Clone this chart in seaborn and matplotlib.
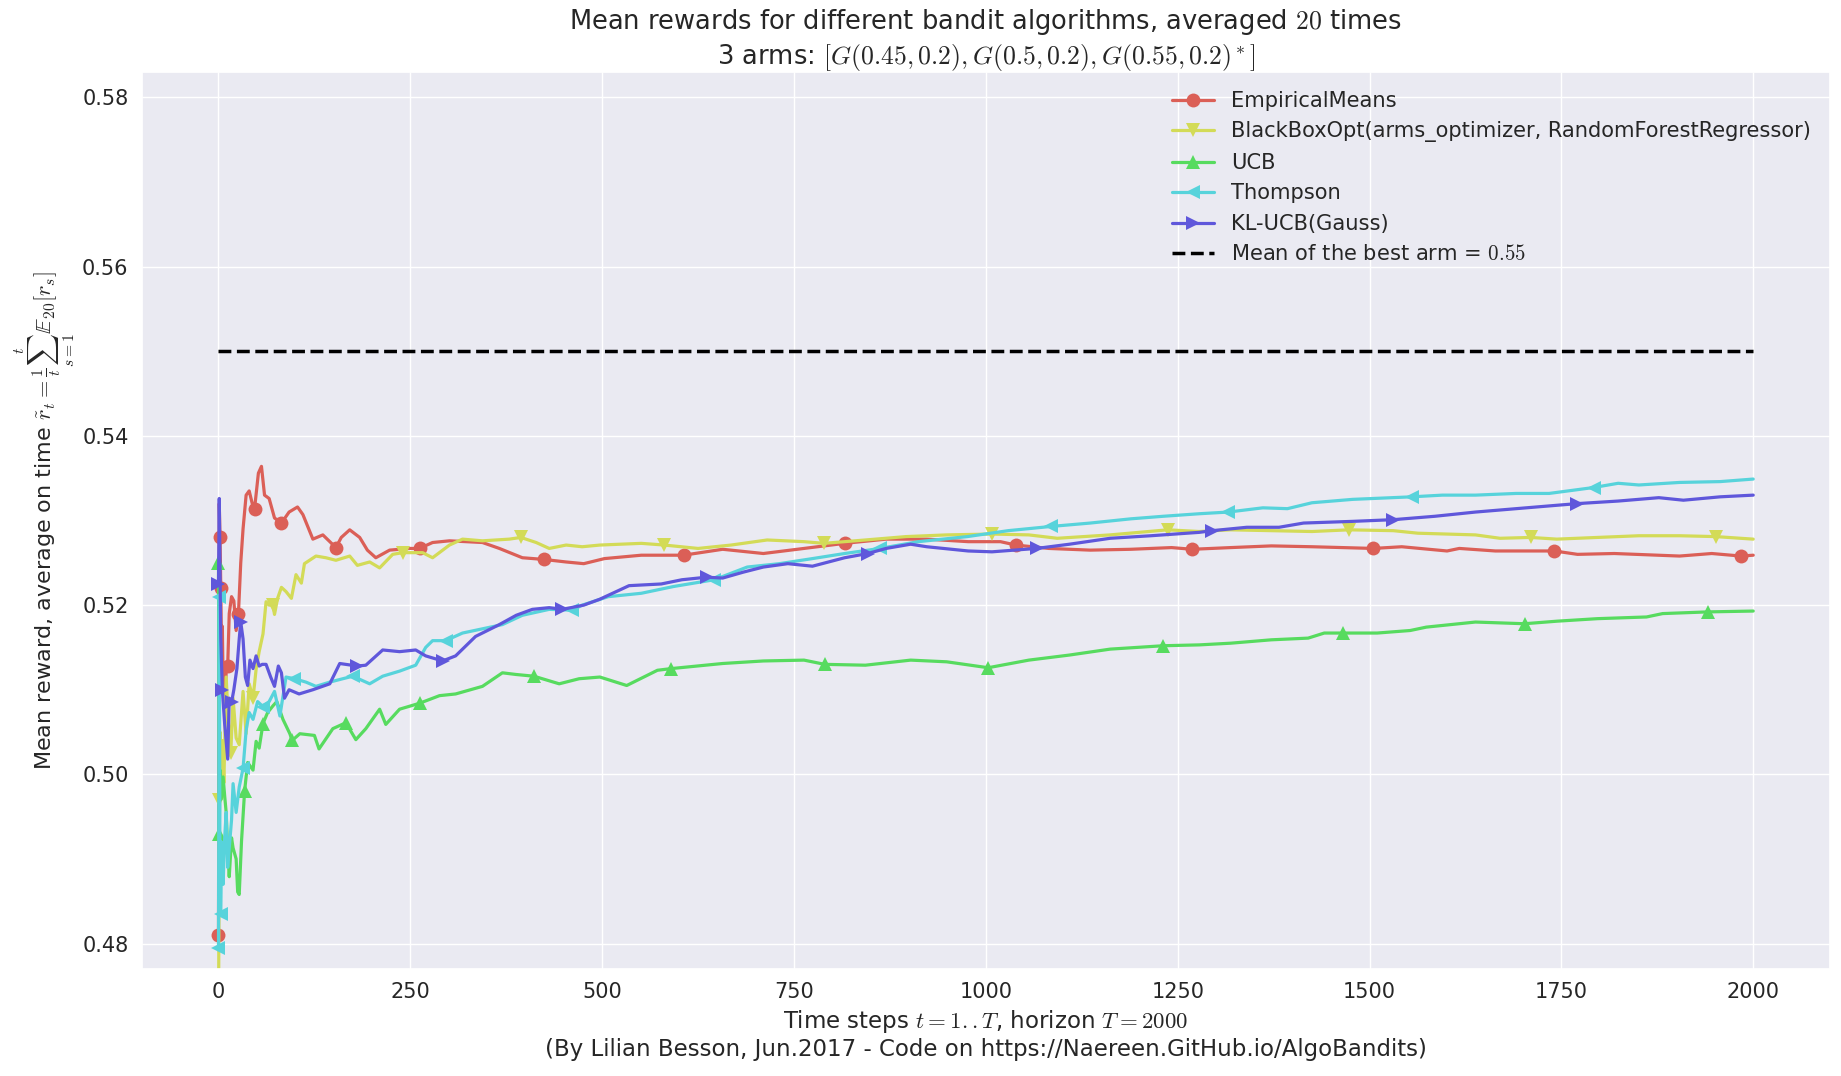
import seaborn as sns
import pandas as pd
import matplotlib
matplotlib.use("Agg")
import matplotlib.pyplot as plt
from matplotlib.ticker import MultipleLocator

# valori: (pas de timp t, recompensa medie)
empirical_means = [
    (0, 0.481), (1, 0.532), (2, 0.528), (3, 0.522), (4, 0.514), (5, 0.5175), (6, 0.511),
    (8, 0.5085), (10, 0.512), (12, 0.5128), (14, 0.519), (17, 0.521), (20, 0.5205),
    (23, 0.517), (26, 0.519), (29, 0.525), (32, 0.529), (36, 0.533), (40, 0.5335),
    (44, 0.532), (47, 0.5314), (52, 0.5356), (56, 0.5364), (60, 0.533), (66, 0.5326),
    (73, 0.5303), (82, 0.5297), (92, 0.531), (103, 0.5316), (110, 0.5307), (123, 0.5278),
    (136, 0.5283), (153, 0.5268), (160, 0.528), (171, 0.5289), (184, 0.528), (194, 0.5265),
    (205, 0.5256), (223, 0.5265), (249, 0.5267), (262, 0.5267), (279, 0.5274), (301, 0.5276),
    (344, 0.5274), (366, 0.5267), (396, 0.5256), (424, 0.5254), (453, 0.5251), (476, 0.5249),
    (503, 0.5255), (551, 0.5259), (606, 0.5259), (657, 0.5266), (710, 0.5261), (763, 0.5267),
    (816, 0.5273), (870, 0.5278), (923, 0.5278), (977, 0.5275), (1019, 0.5275), (1039, 0.5271),
    (1082, 0.5267), (1136, 0.5265), (1189, 0.5266), (1242, 0.5268), (1269, 0.5266),
    (1319, 0.5268), (1372, 0.527), (1425, 0.5269), (1505, 0.5267), (1542, 0.5269),
    (1601, 0.5264), (1617, 0.5267), (1664, 0.5264), (1741, 0.5264), (1771, 0.526),
    (1819, 0.5261), (1904, 0.5258), (1946, 0.5261), (1984, 0.5258), (2000, 0.5259),
]

blackbox_opt = [
    (0, 0.468), (1, 0.497), (2, 0.505), (3, 0.500), (5, 0.504), (7, 0.499), (10, 0.5115),
    (13, 0.506), (16, 0.5025), (19, 0.509), (23, 0.5043), (27, 0.5035), (32, 0.5098),
    (36, 0.5048), (40, 0.5107), (45, 0.509), (49, 0.5124), (53, 0.5145), (58, 0.5166),
    (62, 0.5204), (66, 0.520), (71, 0.520), (73, 0.5189), (77, 0.5208), (82, 0.5221),
    (88, 0.5216), (95, 0.5208), (101, 0.5236), (108, 0.5226), (112, 0.5249), (127, 0.5258),
    (140, 0.5256), (153, 0.5253), (171, 0.5258), (181, 0.5247), (197, 0.5251), (210, 0.5244),
    (227, 0.526), (240, 0.5262), (266, 0.5262), (279, 0.5256), (301, 0.5271), (318, 0.5278),
    (344, 0.5276), (379, 0.5278), (394, 0.528), (414, 0.5274), (431, 0.5267), (453, 0.5271),
    (474, 0.5269), (497, 0.5271), (551, 0.5273), (581, 0.5271), (625, 0.5267), (668, 0.5271),
    (715, 0.5277), (763, 0.5275), (789, 0.5273), (843, 0.5277), (896, 0.5281), (949, 0.5283),
    (1008, 0.5284), (1056, 0.5283), (1093, 0.5279), (1162, 0.5283), (1237, 0.5289),
    (1278, 0.5287), (1319, 0.5289), (1372, 0.5288), (1425, 0.5287), (1473, 0.5289),
    (1531, 0.5288), (1563, 0.5285), (1638, 0.5283), (1670, 0.5279), (1710, 0.528),
    (1744, 0.5278), (1797, 0.528), (1851, 0.5282), (1904, 0.5282), (1951, 0.5281),
    (2000, 0.5278),
]

ucb = [
    (0, 0.525), (1, 0.493), (2, 0.5005), (3, 0.497), (6, 0.4997), (8, 0.4975), (10, 0.4955),
    (12, 0.491), (14, 0.4879), (17, 0.4925), (19, 0.4913), (23, 0.490), (25, 0.4861),
    (27, 0.4858), (30, 0.4921), (34, 0.498), (38, 0.5014), (45, 0.5005), (49, 0.5039),
    (53, 0.5031), (58, 0.506), (64, 0.5073), (71, 0.5081), (76, 0.5086), (84, 0.5065),
    (93, 0.5048), (96, 0.504), (106, 0.5048), (125, 0.5046), (131, 0.503), (149, 0.5054),
    (166, 0.5061), (179, 0.5041), (192, 0.5054), (210, 0.5077), (218, 0.5059), (236, 0.5077),
    (262, 0.5084), (288, 0.5093), (309, 0.5095), (344, 0.5104), (370, 0.512), (388, 0.5118),
    (411, 0.5116), (444, 0.5107), (470, 0.5113), (497, 0.5115), (532, 0.5105), (572, 0.5123),
    (590, 0.5125), (657, 0.5131), (710, 0.5134), (763, 0.5135), (790, 0.513), (843, 0.5129),
    (902, 0.5135), (949, 0.5133), (1003, 0.5126), (1056, 0.5135), (1109, 0.5141),
    (1162, 0.5148), (1231, 0.5152), (1278, 0.5153), (1319, 0.5155), (1372, 0.5159),
    (1420, 0.5161), (1441, 0.5167), (1465, 0.5167), (1510, 0.5167), (1553, 0.517),
    (1574, 0.5174), (1638, 0.518), (1702, 0.5178), (1744, 0.5181), (1797, 0.5184),
    (1861, 0.5186), (1882, 0.519), (1941, 0.5192), (2000, 0.5193),
]

thompson = [
    (0, 0.4795), (1, 0.521), (2, 0.484), (3, 0.4835), (4, 0.492), (6, 0.487), (8, 0.4924),
    (10, 0.4955), (12, 0.489), (14, 0.4913), (17, 0.4946), (19, 0.4989), (23, 0.4955),
    (27, 0.4985), (32, 0.5007), (36, 0.5052), (40, 0.5073), (45, 0.5065), (51, 0.5086),
    (58, 0.508), (66, 0.5086), (73, 0.5098), (80, 0.5069), (88, 0.5115), (99, 0.5113),
    (114, 0.5109), (127, 0.5104), (145, 0.5109), (162, 0.5113), (175, 0.5116), (197, 0.5107),
    (214, 0.5116), (236, 0.5122), (257, 0.5129), (270, 0.515), (279, 0.5158), (296, 0.5158),
    (318, 0.5167), (344, 0.5172), (370, 0.5177), (396, 0.5188), (431, 0.5195), (461, 0.5194),
    (474, 0.520), (508, 0.521), (551, 0.5214), (593, 0.5222), (646, 0.523), (689, 0.5245),
    (731, 0.5249), (774, 0.5255), (816, 0.5261), (862, 0.5267), (912, 0.5275), (976, 0.5281),
    (1029, 0.5288), (1085, 0.5293), (1136, 0.5297), (1189, 0.5302), (1231, 0.5305),
    (1278, 0.5308), (1316, 0.531), (1361, 0.5315), (1393, 0.5314), (1425, 0.5321),
    (1478, 0.5325), (1555, 0.5328), (1595, 0.533), (1638, 0.533), (1691, 0.5332),
    (1734, 0.5332), (1792, 0.5339), (1824, 0.5344), (1851, 0.5342), (1904, 0.5345),
    (1957, 0.5346), (2000, 0.5349),
]

kl_ucb = [
    (0, 0.5225), (1, 0.5326), (2, 0.524), (3, 0.516), (5, 0.510), (8, 0.506), (12, 0.5018),
    (14, 0.509), (17, 0.5085), (20, 0.510), (24, 0.5125), (27, 0.516), (29, 0.518),
    (32, 0.516), (35, 0.5115), (38, 0.5105), (41, 0.5135), (45, 0.5125), (49, 0.514),
    (53, 0.5128), (57, 0.513), (62, 0.513), (68, 0.5115), (73, 0.5104), (78, 0.5128),
    (82, 0.512), (86, 0.509), (92, 0.510), (105, 0.5095), (123, 0.510), (145, 0.5107),
    (158, 0.5131), (181, 0.5128), (192, 0.5129), (214, 0.5147), (236, 0.5145), (257, 0.5147),
    (270, 0.514), (292, 0.5134), (309, 0.514), (335, 0.5163), (366, 0.5177), (388, 0.5188),
    (409, 0.5195), (431, 0.5197), (448, 0.5195), (476, 0.520), (497, 0.5207), (535, 0.5223),
    (577, 0.5225), (604, 0.523), (636, 0.5233), (657, 0.5232), (684, 0.5239), (710, 0.5245),
    (742, 0.5249), (774, 0.5246), (816, 0.5256), (846, 0.5261), (870, 0.5267), (902, 0.5272),
    (923, 0.5269), (977, 0.5264), (1008, 0.5263), (1066, 0.5267), (1109, 0.5272),
    (1162, 0.5279), (1215, 0.5282), (1278, 0.5286), (1295, 0.5288), (1340, 0.5292),
    (1382, 0.5292), (1414, 0.5297), (1478, 0.5299), (1531, 0.5301), (1585, 0.5305),
    (1638, 0.531), (1691, 0.5314), (1744, 0.5318), (1771, 0.532), (1824, 0.5323),
    (1877, 0.5327), (1909, 0.5324), (1957, 0.5328), (2000, 0.533),
]

# pasii de timp unde apar markerii pe fiecare curba
marker_steps = [
    [0, 2, 3, 12, 26, 47, 82, 153, 262, 424, 606, 816, 1039, 1269, 1505, 1741, 1984],
    [1, 16, 45, 71, 240, 394, 581, 789, 1008, 1237, 1473, 1710, 1951],
    [0, 1, 34, 58, 96, 166, 262, 411, 590, 790, 1003, 1231, 1465, 1702, 1941],
    [0, 1, 3, 32, 58, 99, 175, 296, 461, 646, 862, 1085, 1316, 1555, 1792],
    [0, 5, 17, 29, 181, 292, 448, 636, 846, 1066, 1295, 1531, 1771],
]

algo_names = ["EmpiricalMeans", "BlackBoxOpt(arms_optimizer, RandomForestRegressor)",
              "UCB", "Thompson", "KL-UCB(Gauss)"]
algo_series = [empirical_means, blackbox_opt, ucb, thompson, kl_ucb]
markers = ["o", "v", "^", "<", ">"]

HORIZON = 2000
BEST_MEAN = 0.55
NB_REPETITIONS = 20


def marker_indices(series, steps):
    ts = [t for t, _ in series]
    return [min(range(len(ts)), key=lambda k: abs(ts[k] - s)) for s in steps]


sns.set_theme(style="darkgrid", palette="hls")
plt.rcParams["mathtext.fontset"] = "cm"
# paleta hls cu 6 nuante, folosim primele 5
colors = sns.color_palette("hls", 6)[:len(algo_names)]

fig, ax = plt.subplots(figsize=(18.41, 10.76), dpi=100)
fig.subplots_adjust(left=0.077, right=0.994, top=0.933, bottom=0.0995)

for i, (name, series) in enumerate(zip(algo_names, algo_series)):
    df = pd.DataFrame(series, columns=["t", "reward"])
    sns.lineplot(data=df, x="t", y="reward", ax=ax, color=colors[i], lw=2.3,
                 marker=markers[i], markersize=10, markeredgewidth=0,
                 markevery=marker_indices(series, marker_steps[i]),
                 label=name, sort=False, estimator=None)

ax.hlines(BEST_MEAN, 0, HORIZON, colors="black", linestyles="--", lw=2.5,
          label="Mean of the best arm = ${:.3g}$".format(BEST_MEAN))

ax.set_xlim(-100, 2100)
ax.set_ylim(0.477, 0.583)
ax.xaxis.set_major_locator(MultipleLocator(250))
ax.yaxis.set_major_locator(MultipleLocator(0.02))
ax.tick_params(labelsize=15)

ax.legend(loc="upper right", frameon=False, fontsize=15.1)
ax.set_xlabel("Time steps $t = 1 .. T$, horizon $T = {}$\n"
              "(By Lilian Besson, Jun.2017 - Code on https://Naereen.GitHub.io/AlgoBandits)".format(HORIZON),
              fontsize=16.5)
ax.set_ylabel(r"Mean reward, average on time $\tilde{r}_t = \frac{1}{t} \sum_{s = 1}^{t} \mathbb{E}_{%d}[r_s]$"
              % NB_REPETITIONS, fontsize=16)
ax.set_title("Mean rewards for different bandit algorithms, averaged ${}$ times\n"
             "3 arms: $[G(0.45, 0.2), G(0.5, 0.2), G(0.55, 0.2)^*]$".format(NB_REPETITIONS),
             fontsize=18.5)

fig.savefig("out.png", dpi=100)
